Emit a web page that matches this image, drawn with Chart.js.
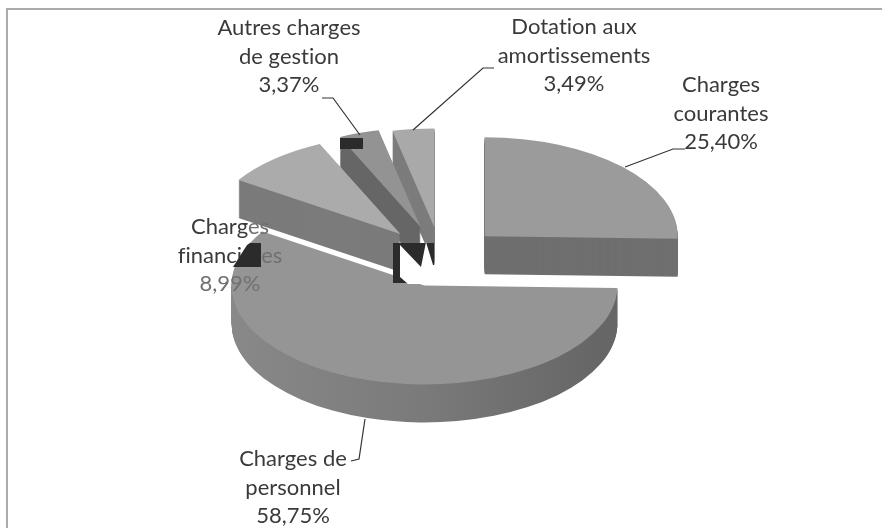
<!DOCTYPE html>
<html>
<head>
<meta charset="utf-8">
<title>Répartition des charges</title>
<script src="https://cdn.jsdelivr.net/npm/chart.js@4/dist/chart.umd.min.js"></script>
<style>
  html, body { margin: 0; padding: 0; background: #fff; }
  canvas { display: block; filter: blur(0.5px); }
</style>
</head>
<body>
<canvas id="chart" width="882" height="528"></canvas>
<script>
// values as printed on the slice labels, clockwise from 12 o'clock
const categories = ["Charges courantes", "Charges de personnel", "Charges financières", "Autres charges de gestion", "Dotation aux amortissements"];
const values = [25.40, 58.75, 8.99, 3.37, 3.49];

const topColors = ["#9b9b9b", "#959595", "#ababab", "#939393", "#a9a9a9"];
const wallColors = ["#6f6f6f", "#7a7a7a", "#7b7b7b", "#666666", "#7c7c7c"];
const explode = [61, 56, 62, 64, 60];
const drawOrder = [4, 3, 2, 0, 1];

const labelLines = [
  ["Charges", "courantes"],
  ["Charges de", "personnel"],
  ["Charges", "financières"],
  ["Autres charges", "de gestion"],
  ["Dotation aux", "amortissements"]
];
const labelAnchors = [[721, 85], [293, 459], [230, 227], [289, 28], [574, 27]];
const leaders = [
  [[685, 149], [673, 149], [625, 167]],
  [[351, 461], [359, 459], [365, 419]],
  [],
  [[322, 98], [333, 98], [360, 135]],
  [[494, 68], [483, 68], [413, 130]]
];

// black scan blotches on the printed page
const blotches = [
  [[340, 138], [363, 138], [363, 149], [340, 149]],
  [[233, 267], [247, 245], [250, 243], [261, 243], [261, 267]],
  [[393, 243], [434, 243], [434, 283], [393, 283]]
];
const blotchHole = [[400, 245], [421, 267], [426, 242], [433, 265], [435, 265], [435, 284], [408, 284], [400, 277]];

const pieY = 258;
const squash = 0.513;
const depth = 38;

function percentText(v) {
  return v.toFixed(2).replace(".", ",") + "%";
}

function polygon(ctx, pts) {
  ctx.beginPath();
  pts.forEach((p, k) => k ? ctx.lineTo(p[0], p[1]) : ctx.moveTo(p[0], p[1]));
}

function drawLabel(ctx, i, color) {
  ctx.fillStyle = color;
  const lines = labelLines[i].concat(percentText(values[i]));
  lines.forEach((t, k) => ctx.fillText(t, labelAnchors[i][0], labelAnchors[i][1] + k * 28.5));
}

const pie3d = {
  id: "pie3d",
  beforeDatasetDraw(chart, args) {
    const ctx = chart.ctx;
    const arcs = args.meta.data;

    const paintSlice = (i, dy, color) => {
      const arc = arcs[i];
      const mid = (arc.startAngle + arc.endAngle) / 2;
      const saved = arc.options;
      arc.options = Object.assign({}, saved, { backgroundColor: color, borderWidth: 0, offset: 0 });
      ctx.save();
      ctx.translate(0, pieY + dy);
      ctx.scale(1, squash);
      ctx.translate(0, -arc.y);
      ctx.translate(Math.cos(mid) * explode[i], Math.sin(mid) * explode[i]);
      arc.draw(ctx);
      ctx.restore();
      arc.options = saved;
    };

    drawOrder.forEach(i => {
      let wall = wallColors[i];
      if (i === 1) {
        wall = ctx.createLinearGradient(228, 0, 615, 0);
        wall.addColorStop(0, "#8a8a8a");
        wall.addColorStop(0.55, "#7a7a7a");
        wall.addColorStop(1, "#666666");
      }
      for (let d = depth; d > 0; d--) paintSlice(i, d, wall);
      paintSlice(i, 0, topColors[i]);
    });
    return false;
  },
  afterDraw(chart) {
    const ctx = chart.ctx;
    ctx.save();

    // only the top and left edges of the chart frame survive in the scan
    ctx.strokeStyle = "#ababab";
    ctx.lineWidth = 2;
    polygon(ctx, [[7, 528], [7, 9], [882, 9]]);
    ctx.stroke();

    // leader lines
    ctx.strokeStyle = "#333333";
    ctx.lineWidth = 1.2;
    leaders.forEach(pts => {
      if (!pts.length) return;
      polygon(ctx, pts);
      ctx.stroke();
    });

    // labels
    ctx.font = "22px Lato";
    ctx.letterSpacing = "0.01px";
    ctx.textAlign = "center";
    ctx.textBaseline = "middle";
    categories.forEach((c, i) => {
      if (i !== 2) drawLabel(ctx, i, "#3a3a3a");
    });

    // the financières label runs over the pie, where it prints much fainter
    ctx.save();
    ctx.beginPath();
    ctx.rect(170, 210, 78, 28);
    ctx.rect(170, 238, 91, 30);
    ctx.clip();
    drawLabel(ctx, 2, "#3a3a3a");
    ctx.restore();
    ctx.save();
    ctx.beginPath();
    ctx.rect(248, 210, 40, 28);
    ctx.rect(261, 238, 30, 30);
    ctx.rect(170, 268, 120, 30);
    ctx.clip();
    drawLabel(ctx, 2, "#707070");
    ctx.restore();

    ctx.fillStyle = "#2b2b2b";
    blotches.forEach(pts => {
      polygon(ctx, pts);
      ctx.fill();
    });
    ctx.fillStyle = "#ffffff";
    polygon(ctx, blotchHole);
    ctx.fill();
    ctx.restore();
  }
};

new Chart(document.getElementById("chart"), {
  type: "pie",
  data: {
    labels: categories,
    datasets: [{ data: values, backgroundColor: topColors, borderWidth: 0 }]
  },
  options: {
    responsive: false,
    animation: false,
    radius: 193,
    rotation: 0,
    events: [],
    plugins: { legend: { display: false }, tooltip: { enabled: false } }
  },
  plugins: [pie3d]
});
</script>
</body>
</html>
